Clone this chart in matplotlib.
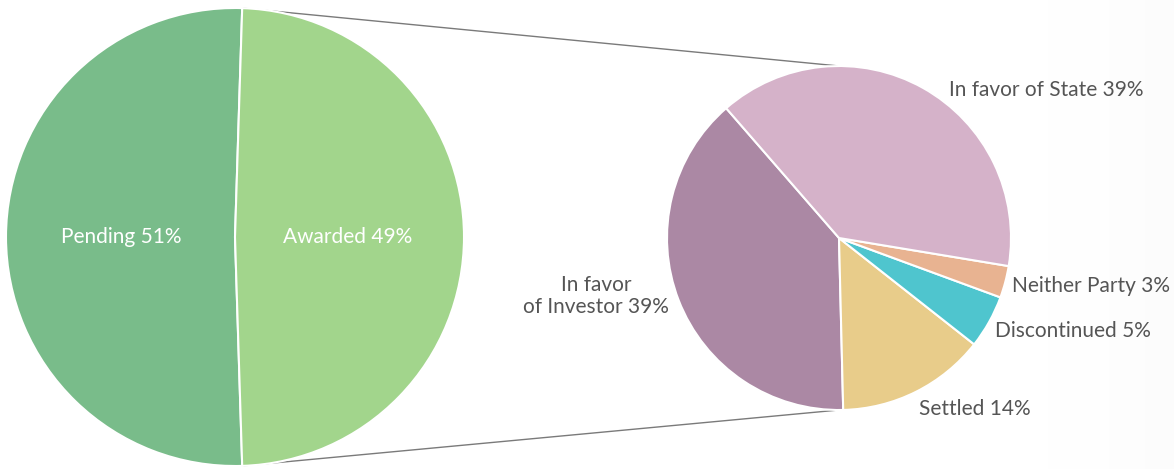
import numpy as np
import matplotlib.pyplot as plt

# outer pie: all cases
status_labels = ["Pending", "Awarded"]
status_values = [51, 49]
status_colors = ["#79bc8a", "#a2d58c"]

# breakdown of concluded cases
outcome_labels = ["In favor\nof Investor", "Settled", "Discontinued", "Neither Party", "In favor of State"]
outcome_values = [39, 14, 5, 3, 39]
outcome_colors = ["#ab88a4", "#e8cc8a", "#4fc5ce", "#e8b391", "#d5b2c9"]

W, H = 1174, 469
plt.rcParams["font.family"] = ["Lato", "DejaVu Sans"]

fig = plt.figure(figsize=(W / 100, H / 100), dpi=100)
ax = fig.add_axes([0, 0, 1, 1])

# faint paper texture on the right edge
grad = np.linspace(0, 1, 200)[None, :] ** 2
ax.imshow(np.repeat(grad, 10, axis=0), extent=(1000, W, 0, H), cmap="Greys",
          vmin=0, vmax=20, aspect="auto", zorder=0, alpha=0.5)

# left pie, split centred on the vertical
lc, lr = (235, H - 237), 229
wl, _ = ax.pie(status_values, colors=status_colors, center=lc, radius=lr,
               startangle=90 - 360 * (status_values[0] - 50) / 200,
               counterclock=True, frame=True,
               wedgeprops=dict(edgecolor="white", linewidth=1.5))

# right pie
rc, rr = (839, H - 238), 172
wr, _ = ax.pie(outcome_values, colors=outcome_colors, center=rc, radius=rr,
               startangle=131, counterclock=True, frame=True,
               wedgeprops=dict(edgecolor="white", linewidth=1.5))
ax.set_xlim(0, W)
ax.set_ylim(0, H)
ax.set_aspect("equal")
ax.axis("off")

# connector lines from the split of the left pie to the right pie
t1 = np.deg2rad(wl[0].theta1)
t2 = np.deg2rad(wl[0].theta2)
p_top = (lc[0] + lr * np.cos(t1), lc[1] + lr * np.sin(t1))
p_bot = (lc[0] + lr * np.cos(t2), lc[1] + lr * np.sin(t2))
ax.plot([p_top[0], rc[0]], [p_top[1], rc[1] + rr], color="#7a7a7a", lw=1, zorder=0.5)
ax.plot([p_bot[0], rc[0]], [p_bot[1], rc[1] - rr], color="#7a7a7a", lw=1, zorder=0.5)

fs = 15
tc = "#555555"
ax.text(121, H - 237, f"{status_labels[0]} {status_values[0]}%", color="white",
        fontsize=fs, ha="center", va="center")
ax.text(348, H - 237, f"{status_labels[1]} {status_values[1]}%", color="white",
        fontsize=fs, ha="center", va="center")

ax.text(596, H - 296, f"{outcome_labels[0]} {outcome_values[0]}%", color=tc,
        fontsize=fs, ha="center", va="center", linespacing=1.15)
ax.text(919, H - 409, f"{outcome_labels[1]} {outcome_values[1]}%", color=tc,
        fontsize=fs, ha="left", va="center")
ax.text(995, H - 331, f"{outcome_labels[2]} {outcome_values[2]}%", color=tc,
        fontsize=fs, ha="left", va="center")
ax.text(1012, H - 286, f"{outcome_labels[3]} {outcome_values[3]}%", color=tc,
        fontsize=fs, ha="left", va="center")
ax.text(949, H - 90, f"{outcome_labels[4]} {outcome_values[4]}%", color=tc,
        fontsize=fs, ha="left", va="center")

fig.savefig("out.png", dpi=100)
